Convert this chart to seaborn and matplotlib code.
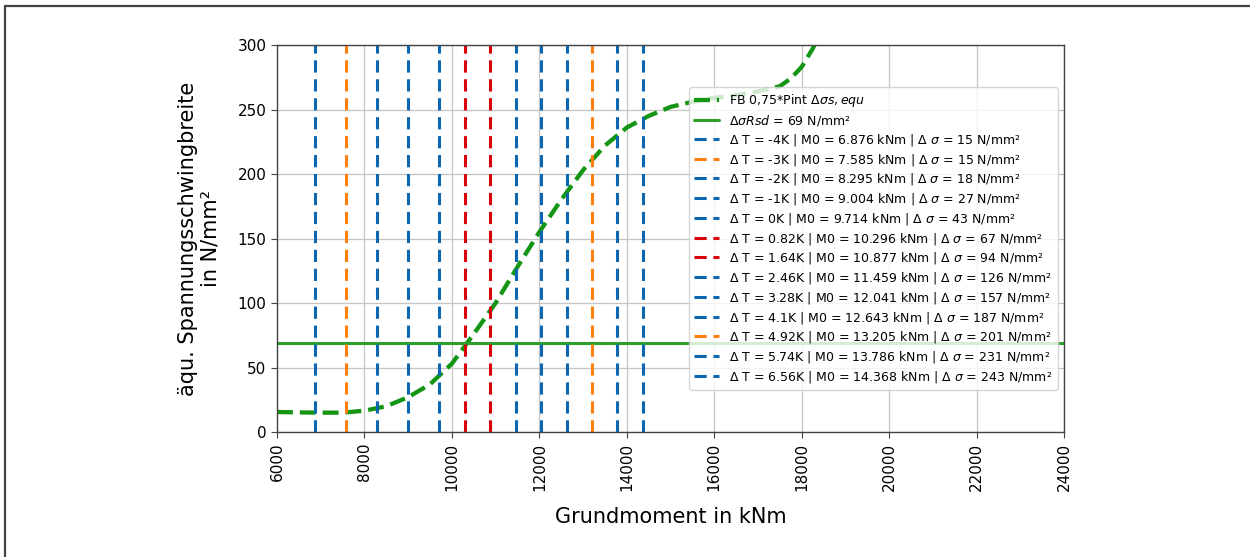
import matplotlib
matplotlib.use("Agg")
import matplotlib.pyplot as plt
from matplotlib.lines import Line2D
import numpy as np
import pandas as pd
import seaborn as sns

# Equivalent stress range curve (FB 0,75*Pint) over the base moment
moment_knm = [6000, 6500, 7000, 7500, 8000, 8500, 9000, 9500, 10000, 10500,
              11000, 11500, 12000, 12500, 13000, 13500, 14000, 14500, 15000,
              15500, 16000, 16500, 17000, 17500, 17750, 18000, 18250, 18500]
stress_range = [15.5, 15.2, 15.0, 15.0, 16.5, 20, 27, 37, 53, 76,
                100, 128, 155, 180, 203, 222, 236, 245, 252,
                256, 259, 261, 264, 268, 274, 283, 297, 314]

# Fatigue resistance
delta_sigma_rsd = 69

# Temperature cases: base moment and resulting stress range
delta_t = ["-4", "-3", "-2", "-1", "0", "0.82", "1.64", "2.46", "3.28",
           "4.1", "4.92", "5.74", "6.56"]
m0_mnm = [6.876, 7.585, 8.295, 9.004, 9.714, 10.296, 10.877, 11.459,
          12.041, 12.643, 13.205, 13.786, 14.368]
delta_sigma = [15, 15, 18, 27, 43, 67, 94, 126, 157, 187, 201, 231, 243]
case_colors = ["#0b67b2", "#ff7f0e", "#0b67b2", "#0b67b2", "#0b67b2",
               "#d9000a", "#d9000a", "#0b67b2", "#0b67b2", "#0b67b2",
               "#ff7f0e", "#0b67b2", "#0b67b2"]

x_ticks = [6000, 8000, 10000, 12000, 14000, 16000, 18000, 20000, 22000, 24000]
y_ticks = [0, 50, 100, 150, 200, 250, 300]

sns.set_style("ticks")
plt.rcParams["font.family"] = ["DejaVu Sans"]
plt.rcParams["text.color"] = "black"
plt.rcParams["axes.labelcolor"] = "black"
plt.rcParams["xtick.color"] = "black"
plt.rcParams["ytick.color"] = "black"

fig = plt.figure(figsize=(12.5, 5.57), dpi=100)
ax = fig.add_axes([0.2216, 0.2244, 0.6296, 0.6948])

curve = pd.DataFrame({"M": moment_knm, "ds": stress_range})
sns.lineplot(data=curve, x="M", y="ds", ax=ax, color="#149614", lw=3.1,
             linestyle="--", label=r"FB 0,75*Pint $\Delta\sigma s, equ$")

ax.axhline(delta_sigma_rsd, color="#2ca02c", lw=2.2,
           label=r"$\Delta\sigma Rsd$ = %d N/mm²" % delta_sigma_rsd)

for dt, m0, ds, c in zip(delta_t, m0_mnm, delta_sigma, case_colors):
    ax.axvline(m0 * 1000, color=c, lw=2.2, dashes=(4.0, 2.2),
               label=r"$\Delta$ T = %sK | M0 = %.3f kNm | $\Delta$ $\sigma$ = %d N/mm²"
               % (dt, m0, ds))

ax.set_xlim(x_ticks[0], x_ticks[-1])
ax.set_ylim(y_ticks[0], y_ticks[-1])
ax.set_xticks(x_ticks)
ax.set_yticks(y_ticks)
ax.tick_params(axis="x", labelrotation=90, labelsize=11, length=4, color="#444444")
ax.tick_params(axis="y", labelsize=11, length=4, color="#444444")
ax.grid(True, color="#c4c4c4", lw=0.9)
for sp in ax.spines.values():
    sp.set_color("#444444")
    sp.set_linewidth(1.0)

ax.set_xlabel("Grundmoment in kNm", fontsize=15, labelpad=12)
ax.set_ylabel("äqu. Spannungsschwingbreite\nin N/mm²", fontsize=15, labelpad=12)

ax.legend(loc="center right", fontsize=9, framealpha=0.8, labelspacing=0.3)

# Outer frame lines along the left and top edge of the figure
fig.add_artist(Line2D([0.0036, 0.0036], [0.0, 0.989], transform=fig.transFigure,
                      color="#444444", lw=1.6))
fig.add_artist(Line2D([0.0036, 1.0], [0.989, 0.989], transform=fig.transFigure,
                      color="#444444", lw=1.6))

fig.savefig("out.png", dpi=100)
